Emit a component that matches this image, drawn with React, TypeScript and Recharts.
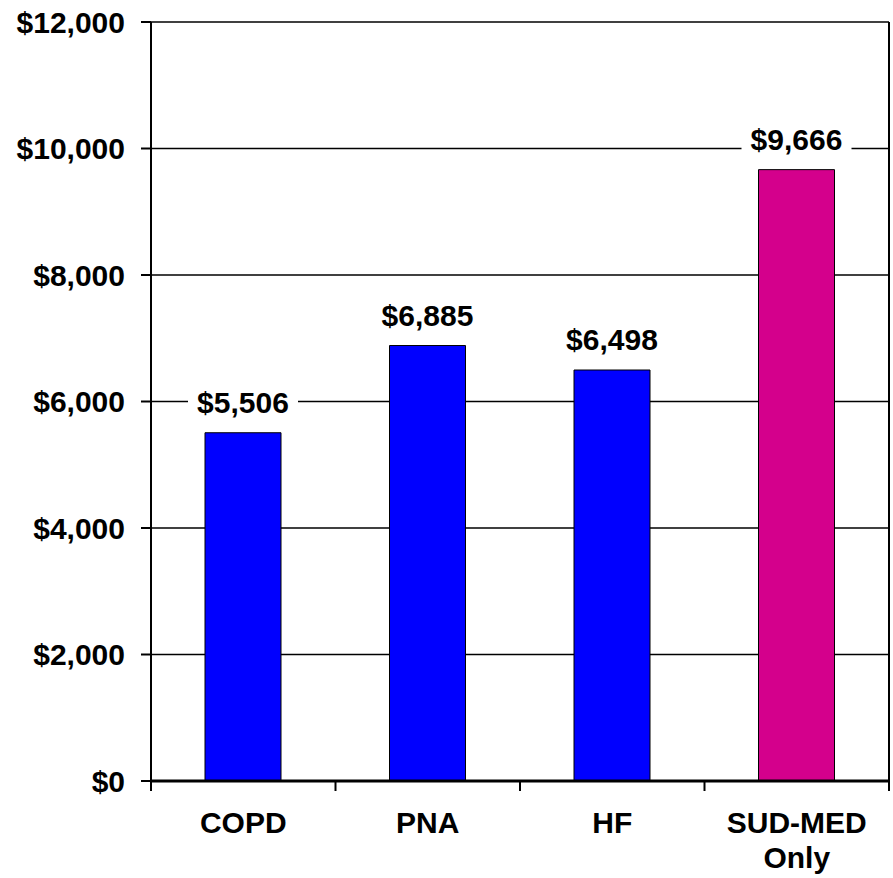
import React from 'react';
import { BarChart, Bar, XAxis, YAxis, CartesianGrid, Cell, LabelList } from 'recharts';

const categories = ['COPD', 'PNA', 'HF', 'SUD-MED Only'];
const costs = [5506, 6885, 6498, 9666];
const barColors = ['#0000FF', '#0000FF', '#0000FF', '#D4008C'];
const yTicks = [0, 2000, 4000, 6000, 8000, 10000, 12000];

const data = categories.map((c, i) => ({ name: c, value: costs[i] }));

const FONT = '"Liberation Sans", Arial, sans-serif';
const FS = 30;
const fmt = (v: number) => `$${v.toLocaleString('en-US')}`;

const CategoryTick = (props: any) => {
  const { x, y, payload, index, visibleTicksCount } = props;
  const off = payload && payload.offset ? payload.offset : 0;
  const axisY = y - 31;
  const words = String(payload.value).split(' ');
  return (
    <g>
      <line x1={x - off} x2={x - off} y1={axisY} y2={axisY + 10} stroke="#000" strokeWidth={2} />
      {index === (visibleTicksCount ?? categories.length) - 1 && (
        <line x1={x + off} x2={x + off} y1={axisY} y2={axisY + 10} stroke="#000" strokeWidth={2} />
      )}
      <text
        x={x}
        y={y + 21}
        textAnchor="middle"
        fill="#000"
        style={{ fontSize: FS, fontWeight: 'bold', fontFamily: FONT }}
      >
        {words.map((w, i) => (
          <tspan key={i} x={x} dy={i === 0 ? 0 : 35}>
            {w}
          </tspan>
        ))}
      </text>
    </g>
  );
};

const ValueLabel = (props: any) => {
  const { x, y, width, value } = props;
  const cx = x + width / 2;
  const boxW = 110;
  return (
    <g>
      <rect x={cx - boxW / 2} y={y - 44} width={boxW} height={36} fill="#fff" />
      <text
        x={cx}
        y={y - 20}
        textAnchor="middle"
        fill="#000"
        style={{ fontSize: FS, fontWeight: 'bold', fontFamily: FONT }}
      >
        {fmt(value)}
      </text>
    </g>
  );
};

export default function App() {
  return (
    <div style={{ position: 'absolute', left: 0, top: 0, background: '#fff' }}>
      <BarChart
        width={893}
        height={878}
        data={data}
        margin={{ top: 22, right: 4, bottom: 0, left: 0 }}
      >
        <CartesianGrid vertical={false} stroke="#000" strokeWidth={1.5} />
        <CartesianGrid
          horizontal={false}
          stroke="#000"
          strokeWidth={2}
          verticalCoordinatesGenerator={({ offset }: any) => [offset.left + offset.width]}
        />
        <XAxis
          dataKey="name"
          height={97}
          interval={0}
          tickLine={false}
          tickSize={0}
          tickMargin={31}
          axisLine={{ stroke: '#000', strokeWidth: 3 }}
          tick={<CategoryTick />}
        />
        <YAxis
          width={151}
          domain={[0, 12000]}
          ticks={yTicks}
          interval={0}
          tickSize={10}
          tickMargin={16}
          tickFormatter={fmt}
          axisLine={{ stroke: '#000', strokeWidth: 2 }}
          tickLine={{ stroke: '#000', strokeWidth: 2 }}
          tick={{ fill: '#000', fontSize: FS, fontWeight: 'bold', fontFamily: FONT }}
        />
        <Bar dataKey="value" barSize={76} stroke="#000" strokeWidth={1} isAnimationActive={false}>
          {data.map((d, i) => (
            <Cell key={d.name} fill={barColors[i]} />
          ))}
          <LabelList dataKey="value" content={<ValueLabel />} />
        </Bar>
      </BarChart>
    </div>
  );
}
